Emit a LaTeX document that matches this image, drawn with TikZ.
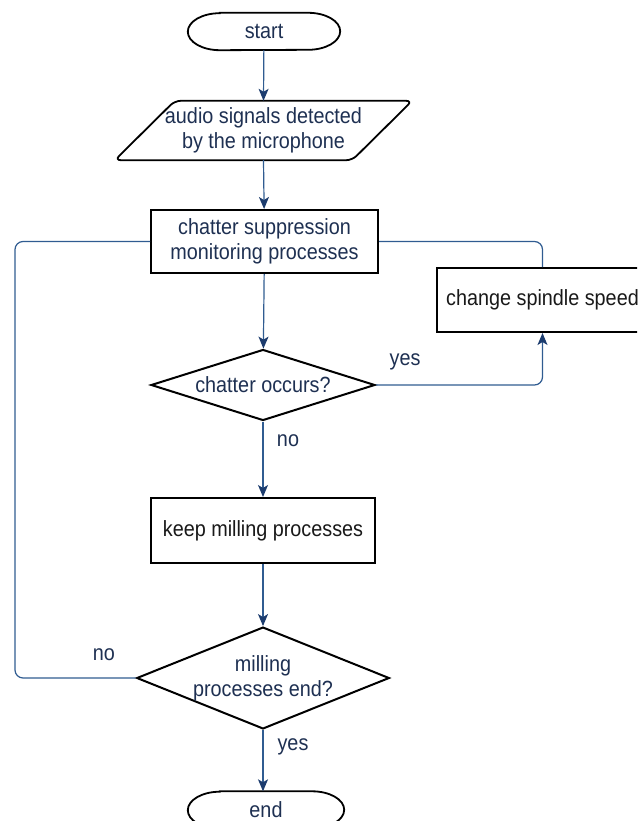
\documentclass[tikz,border=0pt]{standalone}
\usepackage{fontspec}
\setmainfont{Liberation Sans}[FakeStretch=0.9]
\usetikzlibrary{shapes.geometric,arrows.meta,calc}
\definecolor{linec}{RGB}{48,92,145}
\definecolor{tipc}{RGB}{28,60,110}
\definecolor{txtc}{RGB}{30,48,82}
\definecolor{blk}{RGB}{25,25,25}
\newcommand{\termoutline}[1]{%
  \draw[line width=1.8pt] ($(#1.north west)+(32,0)$) -- ($(#1.north east)+(-32,0)$)
    arc[start angle=90,end angle=-90,x radius=32pt,y radius=18.5pt]
    -- ($(#1.south west)+(32,0)$)
    arc[start angle=270,end angle=90,x radius=32pt,y radius=18.5pt] -- cycle;}
\begin{document}
\begin{tikzpicture}[x=1pt,y=-1pt,
  every node/.style={font=\fontsize{22}{25}\selectfont, text=txtc, inner sep=0pt, align=center},
  term/.style={rectangle, minimum height=37pt},
  procbox/.style={rectangle, draw=black, line width=2pt, fill=white},
  decis/.style={diamond, draw=black, line width=2pt, fill=white},
  flow/.style={draw=linec, line width=1.2pt, -{Stealth[length=12pt,width=10pt,inset=3pt,color=tipc]}},
  loopline/.style={draw=linec, line width=1.2pt, rounded corners=8pt},
  lbl/.style={text=txtc}
]
\useasboundingbox (0,0) rectangle (637,821);
\clip (0,0) rectangle (637,821);

\node[term, minimum width=152pt] (start) at (264,31.5) {start};
\termoutline{start}
\node[minimum width=297pt, minimum height=59pt] (io) at (263.5,130.5) {audio signals detected\\by the microphone};
\draw[line width=1.8pt, rounded corners=6pt]
  ($(io.north west)+(60,0)$) -- (io.north east) -- ($(io.south east)+(-60,0)$) -- (io.south west) -- cycle;
\node[procbox, minimum width=227pt, minimum height=63pt] (mon) at (264.5,241.5) {chatter suppression\\monitoring processes};
\node[decis, minimum width=224pt, minimum height=71pt, aspect=3.15] (d1) at (263,385) {chatter occurs?};
\node[procbox, minimum width=212pt, minimum height=64pt, text=blk] (sp) at (542.5,300) {change spindle speed};
\node[procbox, minimum width=224pt, minimum height=65pt, text=blk] (keep) at (263,530.5) {keep milling processes};
\node[decis, minimum width=248pt, minimum height=100pt, aspect=2.48] (d2) at (263,678) {milling\\processes end?};
\node[term, minimum width=156pt] (end) at (266,810) {end};
\termoutline{end}
\coordinate (lc) at (15,241.5);

\draw[flow] (start) -- (io.north);
\draw[flow] (io.south) -- (mon);
\draw[flow] (mon) -- (d1);
\draw[flow] (d1) -- (keep);
\draw[flow] (keep) -- (d2);
\draw[flow] (d2) -- (d2.south |- end.north);
\draw[flow, rounded corners=8pt] (d1.east) -| (sp.south);
\draw[loopline] (mon.east) -| (sp.north);
\draw[loopline] (d2.west) -| (lc) -- (mon.west);

\node[lbl] (yes1) at (405,362) {yes};
\node[lbl] (no1) at (288,441) {no};
\node[lbl] (no2) at (104,655) {no};
\node[lbl] (yes2) at (293,747) {yes};
\end{tikzpicture}
\end{document}
